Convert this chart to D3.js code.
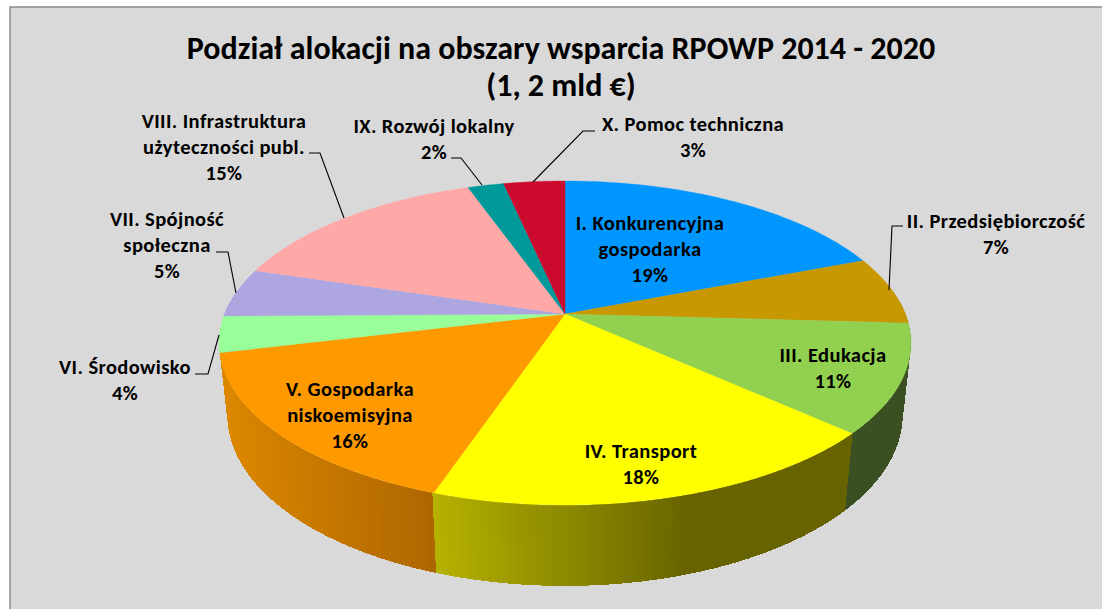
<!DOCTYPE html>
<html><head><meta charset="utf-8">
<script src="https://cdnjs.cloudflare.com/ajax/libs/d3/7.8.5/d3.min.js"></script>
<style>html,body{margin:0;padding:0;background:#fff}svg{display:block}text{font-family:Carlito,"Lato","Open Sans",sans-serif;font-weight:700;fill:#000}</style>
</head><body><svg id="c" width="1102" height="609"></svg>
<script>
const titleLines = ["Podział alokacji na obszary wsparcia RPOWP 2014 - 2020", "(1, 2 mld €)"];
const categories = ["I. Konkurencyjna|gospodarka", "II. Przedsiębiorczość", "III. Edukacja", "IV. Transport", "V. Gospodarka|niskoemisyjna", "VI. Środowisko", "VII. Spójność|społeczna", "VIII. Infrastruktura|użyteczności publ.", "IX. Rozwój lokalny", "X. Pomoc techniczna"];
const shares = [19.1, 6.8, 10.8, 18.49, 16.01, 3.6, 4.9, 14.9, 2.0, 3.4];
const topColors = ["#0096ff", "#c89800", "#92d050", "#ffff00", "#ff9900", "#99ff99", "#aea6e0", "#ffa8a8", "#009999", "#cc0a2e"];
const wallLeft = ["#0070c0", "#8a6a00", "#3c5424", "#b5b100", "#dc8700", "#70b870", "#8078a8", "#b87878", "#006666", "#8a0820"];
const wallRight = ["#0070c0", "#8a6a00", "#3a5022", "#666300", "#ad6600", "#70b870", "#8078a8", "#b87878", "#006666", "#8a0820"];
// wall gradient spans, screen x of the light and dark ends
const wallFrom = [0, 0, 0, 437, 222, 0, 0, 0, 0, 0];
const wallTo = [1, 1, 1, 690, 437, 1, 1, 1, 1, 1];
// label anchor (centre x, first baseline y)
const labelX = [650, 996, 833, 641, 350, 125, 167, 224, 434, 693];
const labelY = [230, 228, 362, 458, 396, 374, 226, 128, 133, 131];
// leader polylines, from text to rim
const leaders = [null, [[903, 226],[892, 226],[889, 290]], null, null, null, [[195, 374],[208, 374],[219, 335]], [[216, 252],[228, 252],[236, 293]], [[309, 153],[320, 153],[344, 218]], [[451, 158],[461, 158],[482, 185]], [[595, 131],[583, 131],[533, 182]]];

const svg = d3.select("#c");
svg.append("rect").attr("x", 10).attr("y", 7).attr("width", 1200).attr("height", 700).attr("fill", "#d9d9d9").attr("stroke", "#8c8c8c").attr("stroke-width", 1.5);

titleLines.forEach((t, i) => svg.append("text").attr("x", 561).attr("y", 59 + i * 37).attr("text-anchor", "middle").attr("font-size", 32).text(t));

const cx = 565, cy = 314, R = 340.4, H = 156.8, k = 0.179, D = 73, m = 0.024;
function proj(a, z) {
  const u = Math.sin(a), v = -Math.cos(a), w = 1 - k * v + m * z;
  return [cx + R * u / w, cy + (H * v + D * z) / w];
}
const pie = d3.pie().sort(null).value(d => d).startAngle(0).endAngle(2 * Math.PI);
const arcs = pie(shares);
const line = d3.line();
const deg = Math.PI / 180;

// side walls, painted back to front; each strip runs slightly under the nearer one
const quads = [];
arcs.forEach((s, i) => {
  const n = Math.max(1, Math.ceil((s.endAngle - s.startAngle) / deg));
  const col = d3.scaleLinear().domain([wallFrom[i], wallTo[i]]).range([wallLeft[i], wallRight[i]]).clamp(true);
  for (let j = 0; j < n; j++) {
    const a0 = s.startAngle + (s.endAngle - s.startAngle) * j / n;
    const a1 = s.startAngle + (s.endAngle - s.startAngle) * (j + 1) / n;
    const am = (a0 + a1) / 2;
    if (Math.cos(am) > 0.15) continue;
    const e = 0.2 * deg;
    quads.push({ pts: [proj(a0 - e, 0), proj(a1 + e, 0), proj(a1 + e, 1), proj(a0 - e, 1)], depth: -Math.cos(am), c: col(proj(am, 0)[0]) });
  }
});
quads.sort((a, b) => a.depth - b.depth);
svg.append("g").selectAll("path").data(quads).join("path")
  .attr("d", d => line(d.pts) + "Z").attr("fill", d => d.c).attr("shape-rendering", "crispEdges");

// top face
svg.append("g").selectAll("path").data(arcs).join("path")
  .attr("d", s => {
    const n = Math.max(2, Math.ceil((s.endAngle - s.startAngle) / deg));
    const pts = [[cx, cy]];
    for (let j = 0; j <= n; j++) pts.push(proj(s.startAngle + (s.endAngle - s.startAngle) * j / n, 0));
    return line(pts) + "Z";
  })
  .attr("fill", (s, i) => topColors[i]).attr("stroke", (s, i) => topColors[i]).attr("stroke-width", 0.4);

// leaders
svg.append("g").selectAll("path").data(leaders.filter(Boolean)).join("path")
  .attr("d", d => line(d)).attr("fill", "none").attr("stroke", "#000").attr("stroke-width", 1.1);

// labels
const pct = d3.format(".0f");
arcs.forEach((s, i) => {
  const lines = categories[i].split("|").concat(pct(s.data) + "%");
  const t = svg.append("text").attr("text-anchor", "middle").attr("font-size", 20.5).attr("letter-spacing", 0.4);
  lines.forEach((l, j) => t.append("tspan").attr("x", labelX[i]).attr("y", labelY[i] + j * 26).text(l));
});
</script></body></html>
